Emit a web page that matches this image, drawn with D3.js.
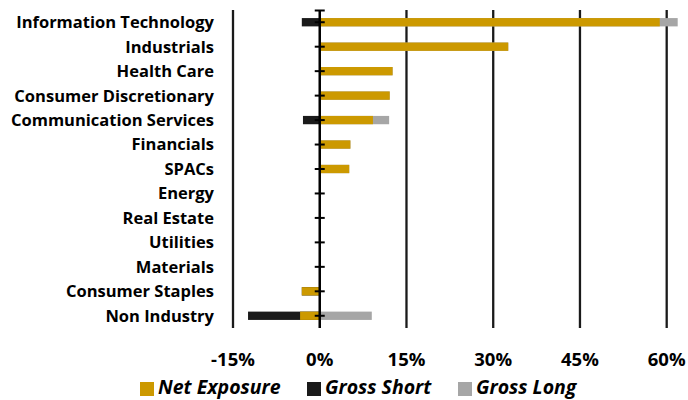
<!DOCTYPE html>
<html>
<head>
<meta charset="utf-8">
<script src="https://cdn.jsdelivr.net/npm/d3@7"></script>
<style>
  body { margin: 0; background: #fff; }
  text { font-family: "Open Sans", "Noto Sans", sans-serif; font-weight: bold; fill: #000; }
</style>
</head>
<body>
<svg id="chart"></svg>
<script>
const categories = ["Information Technology", "Industrials", "Health Care", "Consumer Discretionary",
  "Communication Services", "Financials", "SPACs", "Energy", "Real Estate", "Utilities",
  "Materials", "Consumer Staples", "Non Industry"]
const netExposure = [58.8, 32.6, 12.6, 12.1, 9.2, 5.3, 5.1, 0, 0, 0, 0, -3.1, -3.4]
const grossShort = [-3.1, 0, 0, 0, -2.9, 0, 0, 0, 0, 0, 0, -3.1, -12.4]
const grossLong = [61.9, 32.6, 12.6, 12.1, 12.0, 5.3, 5.1, 0, 0, 0, 0, 0, 9.0]
const xTicks = [-15, 0, 15, 30, 45, 60]
const legendItems = ["Net Exposure", "Gross Short", "Gross Long"]
const colors = ["#cc9900", "#1a1a1a", "#a6a6a6"]

const width = 688, height = 400
const plotTop = 10, plotBottom = 328

const svg = d3.select("#chart").attr("width", width).attr("height", height)

const x = d3.scaleLinear().domain([-15, 60]).range([233, 666.7])
const y = d3.scaleBand().domain(categories).range([plotTop, plotBottom]).paddingInner(0.66).paddingOuter(0.33)

// gridlines
svg.append("g").selectAll("line")
  .data(xTicks.filter(d => d !== 0))
  .enter().append("line")
  .attr("x1", d => x(d)).attr("x2", d => x(d))
  .attr("y1", plotTop).attr("y2", plotBottom)
  .attr("stroke", "#1a1a1a").attr("stroke-width", 2.3)

// bars: long, short, then net on top
const barData = categories.map((c, i) => ({c: c, net: netExposure[i], short: grossShort[i], long: grossLong[i]}))

function drawBars(key, color) {
  svg.append("g").selectAll("rect")
    .data(barData.filter(d => d[key] !== 0))
    .enter().append("rect")
    .attr("x", d => x(Math.min(0, d[key])))
    .attr("width", d => Math.abs(x(d[key]) - x(0)))
    .attr("y", d => y(d.c))
    .attr("height", y.bandwidth())
    .attr("fill", color)
}
drawBars("long", colors[2])
drawBars("short", colors[1])
drawBars("net", colors[0])

// zero axis with ticks
svg.append("line")
  .attr("x1", x(0)).attr("x2", x(0))
  .attr("y1", plotTop).attr("y2", plotBottom)
  .attr("stroke", "#000").attr("stroke-width", 2.5)

svg.append("g").selectAll("line")
  .data(categories)
  .enter().append("line")
  .attr("x1", x(0) - 5).attr("x2", x(0) + 5)
  .attr("y1", d => y(d) + y.bandwidth() / 2).attr("y2", d => y(d) + y.bandwidth() / 2)
  .attr("stroke", "#000").attr("stroke-width", 2)

svg.append("line")
  .attr("x1", x(0) - 5).attr("x2", x(0) + 5)
  .attr("y1", plotTop + 0.5).attr("y2", plotTop + 0.5)
  .attr("stroke", "#000").attr("stroke-width", 2)

// category labels
svg.append("g").selectAll("text")
  .data(categories)
  .enter().append("text")
  .attr("x", 214)
  .attr("y", d => y(d) + y.bandwidth() / 2)
  .attr("dy", "0.36em")
  .attr("text-anchor", "end")
  .attr("font-size", 16.5)
  .text(d => d)

// x tick labels
svg.append("g").selectAll("text")
  .data(xTicks)
  .enter().append("text")
  .attr("x", d => x(d))
  .attr("y", 366)
  .attr("text-anchor", "middle")
  .attr("font-size", 18.5)
  .text(d => d + "%")

// legend
const legendX = [140, 307, 458]
const legend = svg.append("g").selectAll("g")
  .data(legendItems)
  .enter().append("g")
  .attr("transform", (d, i) => `translate(${legendX[i]},0)`)

legend.append("rect")
  .attr("x", 0).attr("y", 382)
  .attr("width", 14).attr("height", 14)
  .attr("fill", (d, i) => colors[i])

legend.append("text")
  .attr("x", 18).attr("y", 394)
  .attr("font-size", 19.5)
  .attr("font-style", "italic")
  .text(d => d)
</script>
</body>
</html>
